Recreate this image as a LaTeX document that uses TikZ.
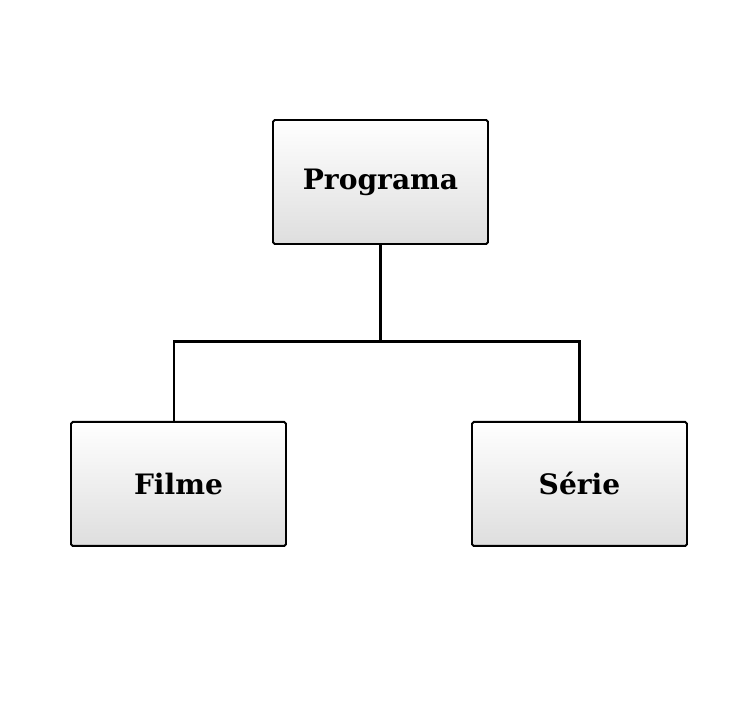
\documentclass[tikz,border=0pt]{standalone}
\usepackage{fontspec}
\setmainfont{DejaVu Serif}
\usetikzlibrary{positioning}

\tikzset{
  classbox/.style={draw, line width=1.1pt, rounded corners=1pt,
    top color=white, bottom color=black!13,
    minimum width=4.3cm, minimum height=2.48cm,
    font=\fontsize{16}{19}\selectfont\bfseries},
  link/.style={line width=1.7pt}
}

\begin{document}
\begin{tikzpicture}
    \useasboundingbox (-7.61,3.64) rectangle (7.49,-10.46);

    \node[classbox] (programa) {Programa};
    \node[classbox, below=3.52cm of programa, xshift=-4.04cm] (filme) {Filme};
    \node[classbox, below=3.52cm of programa, xshift=3.98cm] (serie) {Série};

    \coordinate[below=1.94cm of programa.south] (split);

    \draw[link] (programa) -- (split);
    \draw[link] (split) -| ([xshift=-0.09cm]filme.north);
    \draw[link] (split) -| (serie);
\end{tikzpicture}
\end{document}
